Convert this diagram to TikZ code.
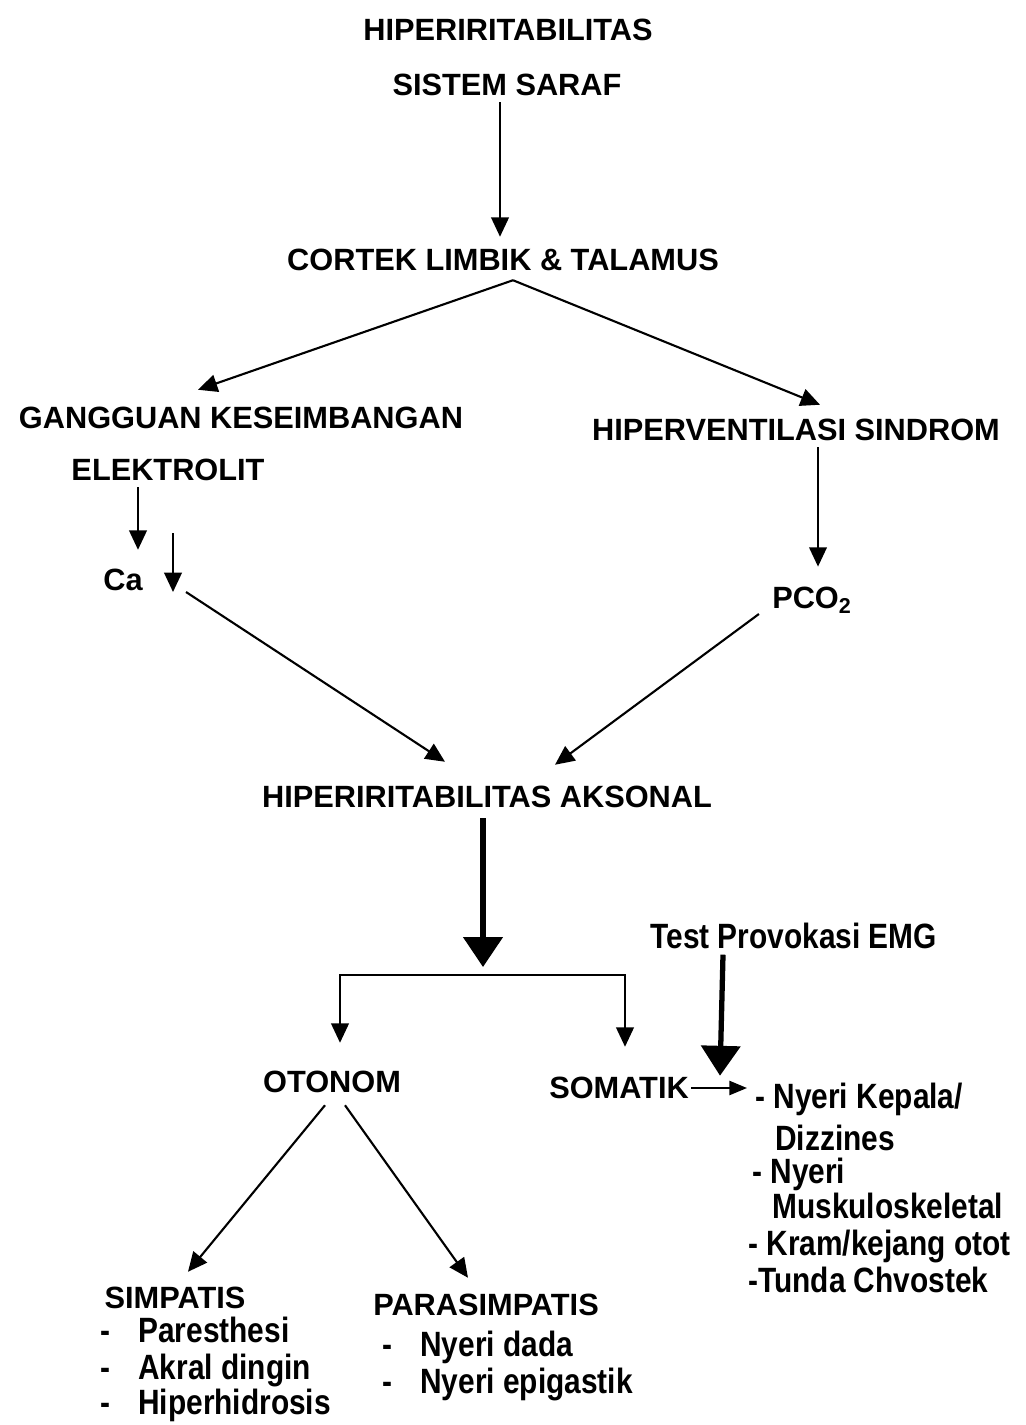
\documentclass[tikz,border=0pt]{standalone}
\usepackage{fontspec}
\setmainfont{Liberation Sans}
\newfontfamily\narrowfont[FakeStretch=0.85]{Liberation Sans}
\usetikzlibrary{arrows.meta,calc}

\tikzset{
  caps/.style={font=\fontsize{17.5}{20}\selectfont\bfseries, inner sep=0pt},
  lower/.style={font=\narrowfont\fontsize{20}{24}\selectfont\bfseries, inner sep=0pt, anchor=base west},
  arr/.style={line width=1.2pt, -{Triangle[width=10pt,length=11pt]}},
  bigarr/.style={line width=3pt, -{Triangle[width=22pt,length=17pt]}},
}
\newcommand{\dashitem}[1]{\makebox[0.76cm][l]{-}#1}

\begin{document}
\begin{tikzpicture}[x=0.02cm,y=-0.02cm]
    \fill[white] (0,0) rectangle (1025,1425);
    \useasboundingbox (0,0) rectangle (1025,1425);

    % Top: sistem saraf
    \node[caps] (hiper) at (508,30) {HIPERIRITABILITAS};
    \node[caps] (sistem) at (507,85) {SISTEM SARAF};
    \node[caps] (cortek) at (503,260) {CORTEK LIMBIK \& TALAMUS};
    \draw[arr] ($(sistem.south)+(-7,6)$) -- ($(cortek.north)+(-3,-12)$);

    % Left branch: elektrolit
    \node[caps] (gangguan) at (241,418) {GANGGUAN KESEIMBANGAN};
    \node[caps] (elektrolit) at (168,470) {ELEKTROLIT};
    \node[caps] (ca) at (123,580) {Ca};
    \draw[arr] ($(cortek.south)+(10,9)$) -- ($(gangguan.north)+(-43,-17)$);
    \draw[arr] ($(elektrolit.south)+(-30,6)$) -- ($(ca.north)+(15,-19)$);
    \draw[arr] ($(ca.east)+(30,-47)$) -- ($(ca.east)+(30,12)$);

    % Right branch: hiperventilasi
    \node[caps] (hiperv) at (796,430) {HIPERVENTILASI SINDROM};
    \node[caps] (pco) at (812,600) {PCO\textsubscript{2}};
    \draw[arr] ($(cortek.south)+(10,9)$) -- ($(hiperv.north)+(24,-14)$);
    \draw[arr] ($(hiperv.south)+(22,6)$) -- ($(pco.north)+(6,-20)$);

    % Aksonal
    \node[caps] (aksonal) at (487,797) {HIPERIRITABILITAS AKSONAL};
    \draw[arr] ($(ca.east)+(43,12)$) -- ($(aksonal.north)+(-42,-24)$);
    \draw[arr] ($(pco.west)+(-13,14)$) -- ($(aksonal.north)+(68,-21)$);

    % Otonom / somatik
    \coordinate (split) at (483,975);
    \node[caps] (otonom) at (332,1082) {OTONOM};
    \node[caps] (somatik) at (619,1088) {SOMATIK};
    \draw[bigarr] ($(aksonal.south)+(-4,10)$) -- ($(split)+(0,-8)$);
    \draw[line width=1.2pt, {Triangle[width=10pt,length=11pt]}-{Triangle[width=10pt,length=11pt]}]
        ($(otonom.north)+(8,-28)$) |- (split) -| ($(somatik.north)+(6,-30)$);

    % Somatik symptoms
    \node[lower] (test) at (650,948) {Test Provokasi EMG};
    \node[lower] (kepala) at (755,1108) {- Nyeri Kepala/};
    \node[lower] (dizzines) at (775,1150) {Dizzines};
    \node[lower] (nyeri) at (752,1183) {- Nyeri};
    \node[lower] (musk) at (772,1218) {Muskuloskeletal};
    \node[lower] (kram) at (748,1255) {- Kram/kejang otot};
    \node[lower] (tunda) at (748,1292) {-Tunda Chvostek};
    \draw[bigarr] ($(test.south west)+(73,6)$) -- ($(test.south west)+(70,127)$);
    \draw[line width=1.2pt, -{Triangle[width=8pt,length=10pt]}]
        ($(somatik.east)+(2,0)$) -- ($(somatik.east -| kepala.west)+(-8,0)$);

    % Simpatis / parasimpatis
    \node[caps] (simpatis) at (175,1298) {SIMPATIS};
    \node[caps] (parasimpatis) at (486,1305) {PARASIMPATIS};
    \draw[arr] ($(otonom.south)+(-7,12)$) -- ($(simpatis.north)+(13,-15)$);
    \draw[arr] ($(otonom.south)+(13,12)$) -- ($(parasimpatis.north)+(-18,-16)$);
    \node[lower] (pares) at (100,1342) {\dashitem{Paresthesi}};
    \node[lower] (akral) at (100,1379) {\dashitem{Akral dingin}};
    \node[lower] (hidro) at (100,1414) {\dashitem{Hiperhidrosis}};
    \node[lower] (dada) at (382,1356) {\dashitem{Nyeri dada}};
    \node[lower] (epi) at (382,1393) {\dashitem{Nyeri epigastik}};
\end{tikzpicture}
\end{document}
